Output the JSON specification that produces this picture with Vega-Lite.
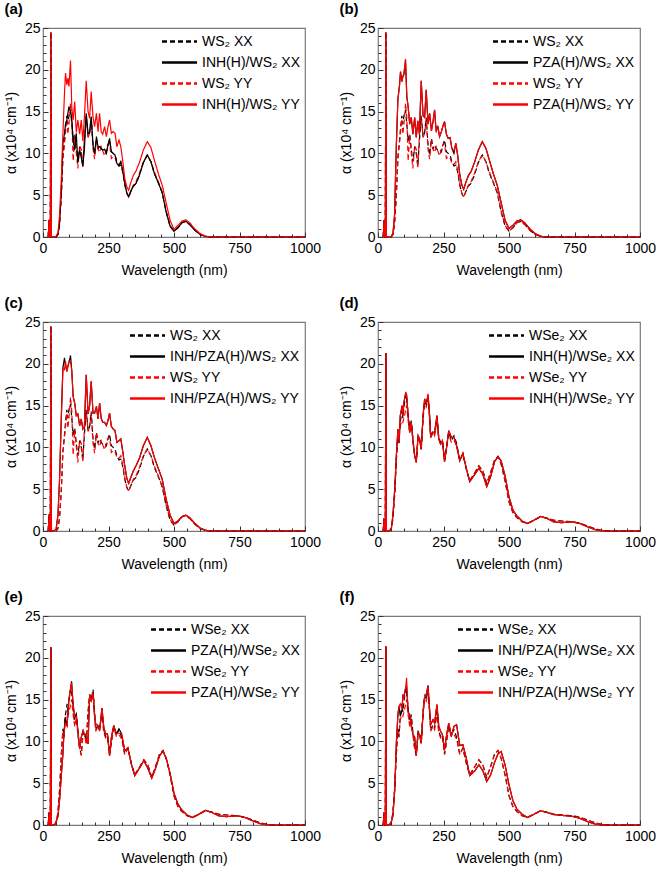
{
"$schema": "https://vega.github.io/schema/vega-lite/v6.json",
"background": "white",
"padding": {"left": 3, "top": 1, "right": 0, "bottom": 0},
"columns": 2,
"spacing": {"row": 17, "column": 16},
"datasets": {
"ws2": [{"w":20,"a":0,"c":0},{"w":23,"a":2,"c":2},{"w":26,"a":0,"c":0},{"w":28,"a":0,"c":0},{"w":30,"a":24.5,"c":24.5},{"w":32,"a":0,"c":0},{"w":40,"a":0,"c":0},{"w":50,"a":0,"c":0},{"w":57,"a":0.3,"c":0.3},{"w":63,"a":1.5,"c":1.5},{"w":70,"a":5,"c":5},{"w":76,"a":9.5,"c":9.5},{"w":82,"a":11.5,"c":11.2},{"w":86,"a":13,"c":12.5},{"w":91,"a":14.5,"c":14.1},{"w":95,"a":13.5,"c":12.3},{"w":99,"a":14.5,"c":13.5},{"w":105,"a":15.2,"c":16},{"w":110,"a":13.5,"c":14.3},{"w":115,"a":11.5,"c":9.1},{"w":121,"a":12.3,"c":12.1},{"w":127,"a":10.5,"c":10.1},{"w":133,"a":9,"c":8.2},{"w":140,"a":10.8,"c":10.9},{"w":146,"a":10,"c":10.5},{"w":152,"a":8.5,"c":8.2},{"w":158,"a":11.5,"c":12.1},{"w":165,"a":14.5,"c":14.5},{"w":172,"a":12,"c":11.9},{"w":178,"a":12.5,"c":12.4},{"w":184,"a":14.3,"c":14.1},{"w":191,"a":11,"c":10.5},{"w":197,"a":9.8,"c":9.3},{"w":204,"a":11.8,"c":11.7},{"w":210,"a":10.5,"c":10.5},{"w":216,"a":11,"c":10.1},{"w":222,"a":10.6,"c":10.8},{"w":228,"a":10.4,"c":10.3},{"w":235,"a":10.5,"c":9.7},{"w":242,"a":10.2,"c":10.5},{"w":248,"a":11,"c":11.1},{"w":254,"a":11.6,"c":11.2},{"w":261,"a":10.2,"c":9.4},{"w":268,"a":10,"c":9.6},{"w":275,"a":9.8,"c":9.5},{"w":282,"a":9,"c":8.8},{"w":290,"a":8.5,"c":8.7},{"w":297,"a":8.6,"c":9},{"w":304,"a":7.8,"c":8},{"w":312,"a":6.2,"c":6.4},{"w":320,"a":5.2,"c":5.2},{"w":327,"a":4.8,"c":4.8},{"w":335,"a":5.4,"c":5.4},{"w":345,"a":6.1,"c":6.2},{"w":355,"a":6.4,"c":6.6},{"w":368,"a":7.4,"c":7.6},{"w":383,"a":8.9,"c":9},{"w":398,"a":9.8,"c":9.8},{"w":412,"a":9,"c":9},{"w":425,"a":7.6,"c":7.8},{"w":440,"a":6.5,"c":6.6},{"w":455,"a":5.3,"c":5.4},{"w":470,"a":3,"c":3.1},{"w":485,"a":1.3,"c":1.4},{"w":500,"a":0.7,"c":0.7},{"w":515,"a":1.1,"c":1.1},{"w":530,"a":1.7,"c":1.7},{"w":545,"a":1.85,"c":1.85},{"w":560,"a":1.5,"c":1.5},{"w":580,"a":0.8,"c":0.8},{"w":600,"a":0.3,"c":0.3},{"w":620,"a":0.08,"c":0.08},{"w":640,"a":0,"c":0},{"w":1000,"a":0,"c":0}],
"pa": [{"w":20,"b":0,"d":0},{"w":23,"b":2,"d":2.1},{"w":26,"b":0,"d":0},{"w":28,"b":0,"d":0},{"w":30,"b":24.5,"d":24.5},{"w":32,"b":0,"d":0},{"w":40,"b":0,"d":0},{"w":50,"b":0,"d":0.1},{"w":57,"b":0.3,"d":0.5},{"w":63,"b":1.5,"d":2.5},{"w":70,"b":5.5,"d":7},{"w":76,"b":11.2,"d":12.4},{"w":82,"b":12.4,"d":17.2},{"w":86,"b":13.5,"d":19.6},{"w":91,"b":14,"d":18.2},{"w":95,"b":14.8,"d":19},{"w":99,"b":15.6,"d":18},{"w":105,"b":15,"d":21.1},{"w":110,"b":14,"d":15.5},{"w":115,"b":11.6,"d":14},{"w":121,"b":10.4,"d":16.2},{"w":127,"b":12.4,"d":12.5},{"w":133,"b":8.9,"d":14},{"w":140,"b":10.4,"d":12.3},{"w":146,"b":9.5,"d":14},{"w":152,"b":8.5,"d":11.5},{"w":158,"b":10.5,"d":14.3},{"w":165,"b":14.8,"d":18.7},{"w":172,"b":12.4,"d":15},{"w":178,"b":12.5,"d":14.2},{"w":184,"b":14.4,"d":17.4},{"w":191,"b":11,"d":14.3},{"w":197,"b":10,"d":13.2},{"w":204,"b":12,"d":14.8},{"w":210,"b":10.8,"d":12.6},{"w":216,"b":10.8,"d":14.8},{"w":222,"b":10.6,"d":12.6},{"w":228,"b":10.4,"d":12.3},{"w":235,"b":10.5,"d":13.2},{"w":242,"b":10,"d":12},{"w":248,"b":11,"d":13.2},{"w":254,"b":11.8,"d":14},{"w":261,"b":10.2,"d":12.4},{"w":268,"b":10,"d":12.6},{"w":275,"b":9.8,"d":12.4},{"w":282,"b":8.8,"d":10.8},{"w":290,"b":8.5,"d":11.6},{"w":297,"b":9,"d":10.8},{"w":304,"b":8,"d":9.2},{"w":312,"b":6.5,"d":7},{"w":320,"b":5.3,"d":6},{"w":327,"b":4.8,"d":5.6},{"w":335,"b":5.5,"d":6.5},{"w":345,"b":6.1,"d":7.4},{"w":355,"b":6.4,"d":7.9},{"w":368,"b":7.4,"d":8.9},{"w":383,"b":8.9,"d":10.4},{"w":398,"b":9.8,"d":11.4},{"w":412,"b":9,"d":10.7},{"w":425,"b":7.6,"d":9.2},{"w":440,"b":6.5,"d":7.6},{"w":455,"b":5.3,"d":6.2},{"w":470,"b":3,"d":4.1},{"w":485,"b":1.3,"d":2},{"w":500,"b":0.7,"d":0.9},{"w":515,"b":1.1,"d":1.4},{"w":530,"b":1.7,"d":1.9},{"w":545,"b":1.9,"d":2.05},{"w":560,"b":1.5,"d":1.7},{"w":580,"b":0.8,"d":0.95},{"w":600,"b":0.3,"d":0.4},{"w":620,"b":0.08,"d":0.1},{"w":640,"b":0,"d":0},{"w":1000,"b":0,"d":0}],
"pb": [{"w":20,"b":0,"d":0},{"w":23,"b":2,"d":2},{"w":26,"b":0,"d":0},{"w":28,"b":0,"d":0},{"w":30,"b":24.5,"d":24.5},{"w":32,"b":0,"d":0},{"w":40,"b":0,"d":0},{"w":50,"b":0,"d":0},{"w":57,"b":0.4,"d":0.4},{"w":63,"b":2.5,"d":2.5},{"w":70,"b":11,"d":11},{"w":76,"b":16.5,"d":16.5},{"w":82,"b":18.2,"d":18},{"w":86,"b":19.8,"d":19.7},{"w":91,"b":18.6,"d":18.6},{"w":95,"b":19.2,"d":19.2},{"w":99,"b":19.4,"d":19.6},{"w":105,"b":21.1,"d":21.3},{"w":110,"b":16.8,"d":16.8},{"w":115,"b":15.6,"d":15.6},{"w":121,"b":13.5,"d":13.5},{"w":127,"b":14.3,"d":14.3},{"w":133,"b":12.3,"d":12.3},{"w":140,"b":14.3,"d":14.3},{"w":146,"b":11.9,"d":11.9},{"w":152,"b":13.9,"d":13.9},{"w":158,"b":12.3,"d":12.3},{"w":165,"b":18.7,"d":18.7},{"w":172,"b":14.5,"d":14.5},{"w":178,"b":14.3,"d":14.3},{"w":184,"b":17.6,"d":17.6},{"w":191,"b":13.5,"d":13.5},{"w":197,"b":14.8,"d":14.8},{"w":204,"b":12.7,"d":12.7},{"w":210,"b":13.8,"d":13.8},{"w":216,"b":15.2,"d":15.2},{"w":222,"b":12.7,"d":12.5},{"w":228,"b":13.3,"d":13.3},{"w":235,"b":12,"d":12},{"w":242,"b":12.6,"d":12.6},{"w":248,"b":13.3,"d":13.3},{"w":254,"b":13.8,"d":13.8},{"w":261,"b":12.3,"d":12.3},{"w":268,"b":11.8,"d":11.8},{"w":275,"b":11.9,"d":11.9},{"w":282,"b":10.6,"d":10.6},{"w":290,"b":10,"d":10.3},{"w":297,"b":11.2,"d":11.2},{"w":304,"b":9.8,"d":9.8},{"w":312,"b":7.5,"d":7.5},{"w":320,"b":6.2,"d":6.2},{"w":327,"b":5.7,"d":5.7},{"w":335,"b":6.5,"d":6.5},{"w":345,"b":7.4,"d":7.3},{"w":355,"b":7.8,"d":7.8},{"w":368,"b":8.9,"d":8.9},{"w":383,"b":10.4,"d":10.4},{"w":398,"b":11.4,"d":11.4},{"w":412,"b":10.6,"d":10.6},{"w":425,"b":9.2,"d":9.2},{"w":440,"b":7.6,"d":7.6},{"w":455,"b":6.2,"d":6.2},{"w":470,"b":4.1,"d":4.1},{"w":485,"b":2,"d":2},{"w":500,"b":1,"d":1},{"w":515,"b":1.4,"d":1.4},{"w":530,"b":1.9,"d":1.9},{"w":545,"b":2.05,"d":2.05},{"w":560,"b":1.7,"d":1.7},{"w":580,"b":0.95,"d":0.95},{"w":600,"b":0.4,"d":0.4},{"w":620,"b":0.1,"d":0.1},{"w":640,"b":0,"d":0},{"w":1000,"b":0,"d":0}],
"pc": [{"w":20,"b":0,"d":0},{"w":23,"b":1.8,"d":1.8},{"w":26,"b":0,"d":0},{"w":28,"b":0,"d":0},{"w":30,"b":24.5,"d":24.5},{"w":32,"b":0,"d":0},{"w":40,"b":0,"d":0},{"w":50,"b":0.2,"d":0.2},{"w":57,"b":1.9,"d":1.9},{"w":63,"b":6,"d":6},{"w":70,"b":13.7,"d":13.7},{"w":76,"b":19.5,"d":19.5},{"w":82,"b":20.7,"d":19.3},{"w":86,"b":19.8,"d":20.3},{"w":91,"b":19.1,"d":19.1},{"w":95,"b":19.7,"d":19.7},{"w":99,"b":20.1,"d":20.3},{"w":105,"b":21,"d":20.3},{"w":110,"b":19.1,"d":19.1},{"w":115,"b":16.1,"d":16.1},{"w":121,"b":15.3,"d":15.3},{"w":127,"b":13.8,"d":13.8},{"w":133,"b":14,"d":14},{"w":140,"b":12.6,"d":12.6},{"w":146,"b":13.4,"d":13.4},{"w":152,"b":12.2,"d":12.2},{"w":158,"b":12.5,"d":12.5},{"w":165,"b":18.7,"d":18.7},{"w":172,"b":14,"d":14},{"w":178,"b":15,"d":15},{"w":184,"b":17.9,"d":17.9},{"w":191,"b":14.1,"d":14.1},{"w":197,"b":14.1,"d":14.1},{"w":204,"b":14.9,"d":14.9},{"w":210,"b":13.4,"d":13.4},{"w":216,"b":15.3,"d":15.3},{"w":222,"b":13.5,"d":13.5},{"w":228,"b":13,"d":13},{"w":235,"b":13,"d":13},{"w":242,"b":12.6,"d":12.6},{"w":248,"b":13.2,"d":13.2},{"w":254,"b":14.1,"d":14.1},{"w":261,"b":12.5,"d":12.5},{"w":268,"b":12.2,"d":12.2},{"w":275,"b":12,"d":12},{"w":282,"b":10.6,"d":10.6},{"w":290,"b":10.8,"d":10.8},{"w":297,"b":11,"d":11},{"w":304,"b":9.6,"d":9.6},{"w":312,"b":7.8,"d":7.8},{"w":320,"b":6.3,"d":6.3},{"w":327,"b":5.7,"d":5.7},{"w":335,"b":6.4,"d":6.4},{"w":345,"b":7.2,"d":7.2},{"w":355,"b":7.8,"d":7.8},{"w":368,"b":8.7,"d":8.7},{"w":383,"b":10.2,"d":10.2},{"w":398,"b":11.2,"d":11.2},{"w":412,"b":10.2,"d":10.2},{"w":425,"b":8.8,"d":8.8},{"w":440,"b":7.5,"d":7.5},{"w":455,"b":6.2,"d":6.2},{"w":470,"b":3.8,"d":3.8},{"w":485,"b":1.9,"d":1.9},{"w":500,"b":0.9,"d":0.9},{"w":515,"b":1.2,"d":1.2},{"w":530,"b":1.7,"d":1.7},{"w":545,"b":1.9,"d":1.9},{"w":560,"b":1.6,"d":1.6},{"w":580,"b":0.9,"d":0.9},{"w":600,"b":0.35,"d":0.35},{"w":620,"b":0.08,"d":0.08},{"w":640,"b":0,"d":0},{"w":1000,"b":0,"d":0}],
"wse2": [{"w":20,"a":0,"c":0},{"w":23,"a":1.5,"c":1.5},{"w":26,"a":0,"c":0},{"w":28,"a":0,"c":0},{"w":30,"a":21.3,"c":21.3},{"w":32,"a":0,"c":0},{"w":40,"a":0,"c":0},{"w":46,"a":0.1,"c":0.1},{"w":51,"a":0.3,"c":0.3},{"w":57,"a":1.5,"c":1.5},{"w":64,"a":4.5,"c":4.5},{"w":70,"a":8.5,"c":8.5},{"w":76,"a":11.5,"c":11.2},{"w":80,"a":10.5,"c":10.8},{"w":85,"a":13,"c":12.6},{"w":92,"a":14.5,"c":13.2},{"w":95,"a":13.5,"c":13},{"w":99,"a":14.8,"c":13.5},{"w":106,"a":16.4,"c":14.5},{"w":109,"a":16,"c":15},{"w":115,"a":14,"c":13.2},{"w":121,"a":12,"c":11.8},{"w":127,"a":13.2,"c":12.8},{"w":134,"a":10.8,"c":10.6},{"w":140,"a":9.2,"c":9},{"w":146,"a":8.4,"c":8.3},{"w":153,"a":11.2,"c":11},{"w":159,"a":11,"c":10.8},{"w":165,"a":9.8,"c":9.6},{"w":172,"a":13.6,"c":13.4},{"w":178,"a":15.6,"c":15.2},{"w":184,"a":15,"c":14.8},{"w":191,"a":16.2,"c":15.8},{"w":197,"a":13.6,"c":13.4},{"w":201,"a":11.4,"c":11.2},{"w":210,"a":12,"c":11.8},{"w":216,"a":11.6,"c":11.4},{"w":225,"a":13.6,"c":13.4},{"w":232,"a":11.2,"c":11},{"w":239,"a":10.6,"c":10.4},{"w":246,"a":10.8,"c":10.6},{"w":254,"a":8.5,"c":8.4},{"w":261,"a":9.9,"c":9.8},{"w":270,"a":11.8,"c":11.6},{"w":280,"a":10.8,"c":10.6},{"w":290,"a":11.4,"c":10.8},{"w":300,"a":10.5,"c":10.3},{"w":312,"a":8.5,"c":8.4},{"w":324,"a":9.2,"c":9.2},{"w":337,"a":7.4,"c":7.4},{"w":350,"a":6,"c":6},{"w":370,"a":7,"c":7},{"w":385,"a":7.8,"c":7.8},{"w":400,"a":7.2,"c":7.2},{"w":415,"a":5.7,"c":5.7},{"w":430,"a":7,"c":7},{"w":445,"a":8.5,"c":8.5},{"w":458,"a":8.9,"c":8.9},{"w":470,"a":8,"c":8},{"w":485,"a":6,"c":6},{"w":500,"a":3.5,"c":3.5},{"w":515,"a":2.2,"c":2.2},{"w":530,"a":1.6,"c":1.6},{"w":550,"a":1.1,"c":1.1},{"w":570,"a":0.9,"c":0.9},{"w":590,"a":1.2,"c":1.2},{"w":620,"a":1.7,"c":1.7},{"w":645,"a":1.55,"c":1.55},{"w":670,"a":1.3,"c":1.3},{"w":700,"a":1.2,"c":1.2},{"w":740,"a":1.1,"c":1.1},{"w":770,"a":0.95,"c":0.95},{"w":800,"a":0.6,"c":0.6},{"w":830,"a":0.25,"c":0.25},{"w":850,"a":0.1,"c":0.1},{"w":880,"a":0,"c":0},{"w":1000,"a":0,"c":0}],
"pd": [{"w":20,"b":0,"d":0},{"w":23,"b":1.5,"d":1.5},{"w":26,"b":0,"d":0},{"w":28,"b":0,"d":0},{"w":30,"b":21.3,"d":21.3},{"w":32,"b":0,"d":0},{"w":40,"b":0,"d":0},{"w":46,"b":0.1,"d":0.1},{"w":51,"b":0.3,"d":0.3},{"w":57,"b":1.9,"d":1.9},{"w":64,"b":5.1,"d":5.1},{"w":70,"b":9,"d":9},{"w":76,"b":12.2,"d":12.2},{"w":80,"b":10.6,"d":10.6},{"w":85,"b":13.8,"d":13.8},{"w":92,"b":15,"d":15},{"w":95,"b":13.8,"d":13.8},{"w":99,"b":15.4,"d":15.4},{"w":106,"b":16.5,"d":16.6},{"w":109,"b":16.3,"d":16.3},{"w":115,"b":13.8,"d":13.8},{"w":121,"b":11.8,"d":11.8},{"w":127,"b":13,"d":13},{"w":134,"b":10.6,"d":10.6},{"w":140,"b":9,"d":9},{"w":146,"b":8.2,"d":8.2},{"w":153,"b":11.4,"d":11.4},{"w":159,"b":11,"d":11},{"w":165,"b":9.8,"d":9.8},{"w":172,"b":13.8,"d":13.8},{"w":178,"b":15.8,"d":15.8},{"w":184,"b":15.2,"d":15.2},{"w":191,"b":16.2,"d":16.4},{"w":197,"b":13.8,"d":13.8},{"w":201,"b":11.2,"d":11.2},{"w":210,"b":11.8,"d":11.8},{"w":216,"b":11.8,"d":11.8},{"w":225,"b":13.8,"d":13.8},{"w":232,"b":11,"d":11},{"w":239,"b":10.4,"d":10.4},{"w":246,"b":10.8,"d":10.8},{"w":254,"b":8.3,"d":8.3},{"w":261,"b":9.8,"d":9.8},{"w":270,"b":12,"d":12},{"w":280,"b":11.2,"d":11.2},{"w":290,"b":11.2,"d":11.2},{"w":300,"b":10.2,"d":10.2},{"w":312,"b":8.4,"d":8.4},{"w":324,"b":9.3,"d":9.3},{"w":337,"b":7.5,"d":7.5},{"w":350,"b":5.9,"d":5.9},{"w":370,"b":6.8,"d":6.8},{"w":385,"b":7.5,"d":7.5},{"w":400,"b":6.8,"d":6.8},{"w":415,"b":5.3,"d":5.3},{"w":430,"b":6.5,"d":6.5},{"w":445,"b":8.3,"d":8.3},{"w":458,"b":8.9,"d":8.9},{"w":470,"b":8.4,"d":8.4},{"w":485,"b":6.6,"d":6.6},{"w":500,"b":4.1,"d":4.1},{"w":515,"b":2.5,"d":2.5},{"w":530,"b":1.8,"d":1.8},{"w":550,"b":1.2,"d":1.2},{"w":570,"b":0.9,"d":0.9},{"w":590,"b":1.2,"d":1.2},{"w":620,"b":1.75,"d":1.75},{"w":645,"b":1.5,"d":1.5},{"w":670,"b":1.1,"d":1.1},{"w":700,"b":1,"d":1},{"w":740,"b":1.1,"d":1.1},{"w":770,"b":0.9,"d":0.9},{"w":800,"b":0.5,"d":0.5},{"w":830,"b":0.15,"d":0.15},{"w":850,"b":0.05,"d":0.05},{"w":880,"b":0,"d":0},{"w":1000,"b":0,"d":0}],
"pe": [{"w":20,"b":0,"d":0},{"w":23,"b":1.5,"d":1.5},{"w":26,"b":0,"d":0},{"w":28,"b":0,"d":0},{"w":30,"b":21.2,"d":21.2},{"w":32,"b":0,"d":0},{"w":40,"b":0,"d":0},{"w":46,"b":0.1,"d":0.1},{"w":51,"b":0.5,"d":0.5},{"w":57,"b":1,"d":1},{"w":64,"b":3.2,"d":3.2},{"w":70,"b":6,"d":6},{"w":76,"b":8.5,"d":8.5},{"w":80,"b":11,"d":11},{"w":85,"b":12.9,"d":12.2},{"w":92,"b":11.8,"d":11.8},{"w":95,"b":13.5,"d":13.5},{"w":99,"b":15,"d":15},{"w":106,"b":16.5,"d":16.5},{"w":109,"b":17.2,"d":17},{"w":115,"b":14.4,"d":14.4},{"w":121,"b":12.9,"d":12.9},{"w":127,"b":13.3,"d":13},{"w":134,"b":11,"d":11},{"w":140,"b":9.1,"d":9.1},{"w":146,"b":10.5,"d":10.5},{"w":153,"b":11.3,"d":11.3},{"w":159,"b":10.7,"d":10.7},{"w":165,"b":10.9,"d":10.9},{"w":172,"b":9.7,"d":9.7},{"w":178,"b":15.6,"d":15.6},{"w":184,"b":14.8,"d":14.8},{"w":191,"b":15.8,"d":15.8},{"w":197,"b":12.9,"d":12.9},{"w":201,"b":12.1,"d":12.1},{"w":210,"b":11.9,"d":11.9},{"w":216,"b":11.3,"d":11.3},{"w":225,"b":14,"d":14},{"w":232,"b":11.7,"d":11.7},{"w":239,"b":10.9,"d":10.9},{"w":246,"b":10.9,"d":10.9},{"w":254,"b":8.3,"d":8.3},{"w":261,"b":10.5,"d":10.5},{"w":270,"b":11.9,"d":11.9},{"w":280,"b":10.9,"d":10.9},{"w":290,"b":11.5,"d":11},{"w":300,"b":10.9,"d":10.9},{"w":312,"b":8.9,"d":8.9},{"w":324,"b":9.2,"d":9.2},{"w":337,"b":7.3,"d":7.3},{"w":350,"b":5.9,"d":5.9},{"w":370,"b":6.9,"d":6.9},{"w":385,"b":7.7,"d":7.7},{"w":400,"b":6.8,"d":6.8},{"w":415,"b":5.6,"d":5.6},{"w":430,"b":6.8,"d":6.8},{"w":445,"b":8.3,"d":8.3},{"w":458,"b":8.8,"d":8.8},{"w":470,"b":8,"d":8},{"w":485,"b":6.2,"d":6.2},{"w":500,"b":3.8,"d":3.8},{"w":515,"b":2.5,"d":2.5},{"w":530,"b":1.8,"d":1.8},{"w":550,"b":1.2,"d":1.2},{"w":570,"b":0.9,"d":0.9},{"w":590,"b":1.2,"d":1.2},{"w":620,"b":1.75,"d":1.75},{"w":645,"b":1.5,"d":1.5},{"w":670,"b":1.1,"d":1.1},{"w":700,"b":1,"d":1},{"w":740,"b":1.1,"d":1.1},{"w":770,"b":0.9,"d":0.9},{"w":800,"b":0.5,"d":0.5},{"w":830,"b":0.15,"d":0.15},{"w":850,"b":0.05,"d":0.05},{"w":880,"b":0,"d":0},{"w":1000,"b":0,"d":0}],
"pf": [{"w":20,"b":0,"d":0},{"w":23,"b":1.5,"d":1.5},{"w":26,"b":0,"d":0},{"w":28,"b":0,"d":0},{"w":30,"b":21.4,"d":21.4},{"w":32,"b":0,"d":0},{"w":40,"b":0,"d":0},{"w":46,"b":0.1,"d":0.1},{"w":51,"b":0.4,"d":0.4},{"w":57,"b":1.1,"d":1.1},{"w":64,"b":4.3,"d":4.3},{"w":70,"b":9.8,"d":9.8},{"w":76,"b":13.2,"d":13.2},{"w":80,"b":14.2,"d":14.2},{"w":85,"b":13,"d":14.5},{"w":92,"b":13.8,"d":13.8},{"w":95,"b":15.6,"d":15.6},{"w":99,"b":15.3,"d":15.3},{"w":106,"b":16.5,"d":16.5},{"w":109,"b":16.6,"d":17.6},{"w":115,"b":13.5,"d":13.5},{"w":121,"b":13.2,"d":13.2},{"w":127,"b":11.8,"d":11.8},{"w":134,"b":10.8,"d":10.8},{"w":140,"b":10.5,"d":10.5},{"w":146,"b":8.3,"d":8.3},{"w":153,"b":11,"d":11},{"w":159,"b":10.8,"d":10.8},{"w":165,"b":9.8,"d":9.8},{"w":172,"b":13.4,"d":13.4},{"w":178,"b":15.2,"d":15.2},{"w":184,"b":15.6,"d":15.6},{"w":191,"b":16.7,"d":16.6},{"w":197,"b":13.8,"d":13.8},{"w":201,"b":12,"d":12},{"w":210,"b":12.6,"d":12.6},{"w":216,"b":12.2,"d":12.2},{"w":225,"b":14.4,"d":14.4},{"w":232,"b":11.8,"d":11.8},{"w":239,"b":11.2,"d":11.2},{"w":246,"b":10.8,"d":10.8},{"w":254,"b":9,"d":9},{"w":261,"b":10.6,"d":10.6},{"w":270,"b":12.2,"d":12.2},{"w":280,"b":10.6,"d":10.6},{"w":290,"b":11.8,"d":11.8},{"w":300,"b":12,"d":12},{"w":312,"b":9.5,"d":9.5},{"w":324,"b":9.6,"d":9.6},{"w":337,"b":8,"d":8},{"w":350,"b":5.9,"d":5.9},{"w":370,"b":6.5,"d":6.5},{"w":385,"b":7.2,"d":7.2},{"w":400,"b":6.5,"d":6.5},{"w":415,"b":5.2,"d":5.2},{"w":430,"b":6,"d":6},{"w":445,"b":7.5,"d":7.5},{"w":458,"b":8.5,"d":8.5},{"w":470,"b":8.8,"d":8.8},{"w":485,"b":7.2,"d":7.2},{"w":500,"b":4.8,"d":4.8},{"w":515,"b":2.9,"d":2.9},{"w":530,"b":1.9,"d":1.9},{"w":550,"b":1.3,"d":1.3},{"w":570,"b":0.9,"d":0.9},{"w":590,"b":1.2,"d":1.2},{"w":620,"b":1.7,"d":1.7},{"w":645,"b":1.5,"d":1.5},{"w":670,"b":1.25,"d":1.25},{"w":700,"b":1.15,"d":1.15},{"w":740,"b":1.05,"d":1.05},{"w":770,"b":0.8,"d":0.8},{"w":800,"b":0.4,"d":0.4},{"w":830,"b":0.1,"d":0.1},{"w":850,"b":0.02,"d":0.02},{"w":880,"b":0,"d":0},{"w":1000,"b":0,"d":0}]
},
"concat": [
{"title": "(a)", "width": 262, "height": 209,
 "encoding": {
  "x": {"field": "w", "type": "quantitative", "title": "Wavelength (nm)", "scale": {"domain": [0, 1000], "nice": false}, "axis": {"format": "d", "values": [0,50,100,150,200,250,300,350,400,450,500,550,600,650,700,750,800,850,900,950,1000], "labelExpr": "datum.value % 250 == 0 ? datum.label : ''", "tickSize": {"condition": {"test": "datum.value % 250 == 0", "value": -5}, "value": -3}}},
  "y": {"field": "v", "type": "quantitative", "title": "α (x10⁴ cm⁻¹)", "scale": {"domain": [0, 25], "nice": false}, "axis": {"values": [0,1,2,3,4,5,6,7,8,9,10,11,12,13,14,15,16,17,18,19,20,21,22,23,24,25], "labelExpr": "datum.value % 5 == 0 ? datum.label : ''", "tickSize": {"condition": {"test": "datum.value % 5 == 0", "value": -5}, "value": -3}}},
  "color": {"field": "s", "type": "nominal", "title": null, "scale": {"domain": ["a","b","c","d"], "range": ["#000000","#000000","#ff0000","#ff0000"]}, "legend": {"labelExpr": "datum.label=='a'?'WS₂ XX':datum.label=='b'?'INH(H)/WS₂ XX':datum.label=='c'?'WS₂ YY':'INH(H)/WS₂ YY'"}},
  "strokeDash": {"field": "s", "type": "nominal", "title": null, "scale": {"domain": ["a","b","c","d"], "range": [[5,3],[1,0],[5,3],[1,0]]}, "legend": {"labelExpr": "datum.label=='a'?'WS₂ XX':datum.label=='b'?'INH(H)/WS₂ XX':datum.label=='c'?'WS₂ YY':'INH(H)/WS₂ YY'"}}
 },
 "layer": [
  {"data": {"name": "ws2"}, "transform": [{"fold": ["a","c"], "as": ["s","v"]}], "mark": {"type": "line", "strokeWidth": 1.2}},
  {"data": {"name": "pa"}, "transform": [{"fold": ["b","d"], "as": ["s","v"]}], "mark": {"type": "line", "strokeWidth": 1.2}}
 ]},
{"title": "(b)", "width": 262, "height": 209,
 "encoding": {
  "x": {"field": "w", "type": "quantitative", "title": "Wavelength (nm)", "scale": {"domain": [0, 1000], "nice": false}, "axis": {"format": "d", "values": [0,50,100,150,200,250,300,350,400,450,500,550,600,650,700,750,800,850,900,950,1000], "labelExpr": "datum.value % 250 == 0 ? datum.label : ''", "tickSize": {"condition": {"test": "datum.value % 250 == 0", "value": -5}, "value": -3}}},
  "y": {"field": "v", "type": "quantitative", "title": "α (x10⁴ cm⁻¹)", "scale": {"domain": [0, 25], "nice": false}, "axis": {"values": [0,1,2,3,4,5,6,7,8,9,10,11,12,13,14,15,16,17,18,19,20,21,22,23,24,25], "labelExpr": "datum.value % 5 == 0 ? datum.label : ''", "tickSize": {"condition": {"test": "datum.value % 5 == 0", "value": -5}, "value": -3}}},
  "color": {"field": "s", "type": "nominal", "title": null, "scale": {"domain": ["a","b","c","d"], "range": ["#000000","#000000","#ff0000","#ff0000"]}, "legend": {"labelExpr": "datum.label=='a'?'WS₂ XX':datum.label=='b'?'PZA(H)/WS₂ XX':datum.label=='c'?'WS₂ YY':'PZA(H)/WS₂ YY'"}},
  "strokeDash": {"field": "s", "type": "nominal", "title": null, "scale": {"domain": ["a","b","c","d"], "range": [[5,3],[1,0],[5,3],[1,0]]}, "legend": {"labelExpr": "datum.label=='a'?'WS₂ XX':datum.label=='b'?'PZA(H)/WS₂ XX':datum.label=='c'?'WS₂ YY':'PZA(H)/WS₂ YY'"}}
 },
 "layer": [
  {"data": {"name": "ws2"}, "transform": [{"fold": ["a","c"], "as": ["s","v"]}], "mark": {"type": "line", "strokeWidth": 1.2}},
  {"data": {"name": "pb"}, "transform": [{"fold": ["b","d"], "as": ["s","v"]}], "mark": {"type": "line", "strokeWidth": 1.2}}
 ]},
{"title": "(c)", "width": 262, "height": 209,
 "encoding": {
  "x": {"field": "w", "type": "quantitative", "title": "Wavelength (nm)", "scale": {"domain": [0, 1000], "nice": false}, "axis": {"format": "d", "values": [0,50,100,150,200,250,300,350,400,450,500,550,600,650,700,750,800,850,900,950,1000], "labelExpr": "datum.value % 250 == 0 ? datum.label : ''", "tickSize": {"condition": {"test": "datum.value % 250 == 0", "value": -5}, "value": -3}}},
  "y": {"field": "v", "type": "quantitative", "title": "α (x10⁴ cm⁻¹)", "scale": {"domain": [0, 25], "nice": false}, "axis": {"values": [0,1,2,3,4,5,6,7,8,9,10,11,12,13,14,15,16,17,18,19,20,21,22,23,24,25], "labelExpr": "datum.value % 5 == 0 ? datum.label : ''", "tickSize": {"condition": {"test": "datum.value % 5 == 0", "value": -5}, "value": -3}}},
  "color": {"field": "s", "type": "nominal", "title": null, "scale": {"domain": ["a","b","c","d"], "range": ["#000000","#000000","#ff0000","#ff0000"]}, "legend": {"labelExpr": "datum.label=='a'?'WS₂ XX':datum.label=='b'?'INH/PZA(H)/WS₂ XX':datum.label=='c'?'WS₂ YY':'INH/PZA(H)/WS₂ YY'"}},
  "strokeDash": {"field": "s", "type": "nominal", "title": null, "scale": {"domain": ["a","b","c","d"], "range": [[5,3],[1,0],[5,3],[1,0]]}, "legend": {"labelExpr": "datum.label=='a'?'WS₂ XX':datum.label=='b'?'INH/PZA(H)/WS₂ XX':datum.label=='c'?'WS₂ YY':'INH/PZA(H)/WS₂ YY'"}}
 },
 "layer": [
  {"data": {"name": "ws2"}, "transform": [{"fold": ["a","c"], "as": ["s","v"]}], "mark": {"type": "line", "strokeWidth": 1.2}},
  {"data": {"name": "pc"}, "transform": [{"fold": ["b","d"], "as": ["s","v"]}], "mark": {"type": "line", "strokeWidth": 1.2}}
 ]},
{"title": "(d)", "width": 262, "height": 209,
 "encoding": {
  "x": {"field": "w", "type": "quantitative", "title": "Wavelength (nm)", "scale": {"domain": [0, 1000], "nice": false}, "axis": {"format": "d", "values": [0,50,100,150,200,250,300,350,400,450,500,550,600,650,700,750,800,850,900,950,1000], "labelExpr": "datum.value % 250 == 0 ? datum.label : ''", "tickSize": {"condition": {"test": "datum.value % 250 == 0", "value": -5}, "value": -3}}},
  "y": {"field": "v", "type": "quantitative", "title": "α (x10⁴ cm⁻¹)", "scale": {"domain": [0, 25], "nice": false}, "axis": {"values": [0,1,2,3,4,5,6,7,8,9,10,11,12,13,14,15,16,17,18,19,20,21,22,23,24,25], "labelExpr": "datum.value % 5 == 0 ? datum.label : ''", "tickSize": {"condition": {"test": "datum.value % 5 == 0", "value": -5}, "value": -3}}},
  "color": {"field": "s", "type": "nominal", "title": null, "scale": {"domain": ["a","b","c","d"], "range": ["#000000","#000000","#ff0000","#ff0000"]}, "legend": {"labelExpr": "datum.label=='a'?'WSe₂ XX':datum.label=='b'?'INH(H)/WSe₂ XX':datum.label=='c'?'WSe₂ YY':'INH(H)/WSe₂ YY'"}},
  "strokeDash": {"field": "s", "type": "nominal", "title": null, "scale": {"domain": ["a","b","c","d"], "range": [[5,3],[1,0],[5,3],[1,0]]}, "legend": {"labelExpr": "datum.label=='a'?'WSe₂ XX':datum.label=='b'?'INH(H)/WSe₂ XX':datum.label=='c'?'WSe₂ YY':'INH(H)/WSe₂ YY'"}}
 },
 "layer": [
  {"data": {"name": "wse2"}, "transform": [{"fold": ["a","c"], "as": ["s","v"]}], "mark": {"type": "line", "strokeWidth": 1.2}},
  {"data": {"name": "pd"}, "transform": [{"fold": ["b","d"], "as": ["s","v"]}], "mark": {"type": "line", "strokeWidth": 1.2}}
 ]},
{"title": "(e)", "width": 262, "height": 209,
 "encoding": {
  "x": {"field": "w", "type": "quantitative", "title": "Wavelength (nm)", "scale": {"domain": [0, 1000], "nice": false}, "axis": {"format": "d", "values": [0,50,100,150,200,250,300,350,400,450,500,550,600,650,700,750,800,850,900,950,1000], "labelExpr": "datum.value % 250 == 0 ? datum.label : ''", "tickSize": {"condition": {"test": "datum.value % 250 == 0", "value": -5}, "value": -3}}},
  "y": {"field": "v", "type": "quantitative", "title": "α (x10⁴ cm⁻¹)", "scale": {"domain": [0, 25], "nice": false}, "axis": {"values": [0,1,2,3,4,5,6,7,8,9,10,11,12,13,14,15,16,17,18,19,20,21,22,23,24,25], "labelExpr": "datum.value % 5 == 0 ? datum.label : ''", "tickSize": {"condition": {"test": "datum.value % 5 == 0", "value": -5}, "value": -3}}},
  "color": {"field": "s", "type": "nominal", "title": null, "scale": {"domain": ["a","b","c","d"], "range": ["#000000","#000000","#ff0000","#ff0000"]}, "legend": {"labelExpr": "datum.label=='a'?'WSe₂ XX':datum.label=='b'?'PZA(H)/WSe₂ XX':datum.label=='c'?'WSe₂ YY':'PZA(H)/WSe₂ YY'"}},
  "strokeDash": {"field": "s", "type": "nominal", "title": null, "scale": {"domain": ["a","b","c","d"], "range": [[5,3],[1,0],[5,3],[1,0]]}, "legend": {"labelExpr": "datum.label=='a'?'WSe₂ XX':datum.label=='b'?'PZA(H)/WSe₂ XX':datum.label=='c'?'WSe₂ YY':'PZA(H)/WSe₂ YY'"}}
 },
 "layer": [
  {"data": {"name": "wse2"}, "transform": [{"fold": ["a","c"], "as": ["s","v"]}], "mark": {"type": "line", "strokeWidth": 1.2}},
  {"data": {"name": "pe"}, "transform": [{"fold": ["b","d"], "as": ["s","v"]}], "mark": {"type": "line", "strokeWidth": 1.2}}
 ]},
{"title": "(f)", "width": 262, "height": 209,
 "encoding": {
  "x": {"field": "w", "type": "quantitative", "title": "Wavelength (nm)", "scale": {"domain": [0, 1000], "nice": false}, "axis": {"format": "d", "values": [0,50,100,150,200,250,300,350,400,450,500,550,600,650,700,750,800,850,900,950,1000], "labelExpr": "datum.value % 250 == 0 ? datum.label : ''", "tickSize": {"condition": {"test": "datum.value % 250 == 0", "value": -5}, "value": -3}}},
  "y": {"field": "v", "type": "quantitative", "title": "α (x10⁴ cm⁻¹)", "scale": {"domain": [0, 25], "nice": false}, "axis": {"values": [0,1,2,3,4,5,6,7,8,9,10,11,12,13,14,15,16,17,18,19,20,21,22,23,24,25], "labelExpr": "datum.value % 5 == 0 ? datum.label : ''", "tickSize": {"condition": {"test": "datum.value % 5 == 0", "value": -5}, "value": -3}}},
  "color": {"field": "s", "type": "nominal", "title": null, "scale": {"domain": ["a","b","c","d"], "range": ["#000000","#000000","#ff0000","#ff0000"]}, "legend": {"labelExpr": "datum.label=='a'?'WSe₂ XX':datum.label=='b'?'INH/PZA(H)/WSe₂ XX':datum.label=='c'?'WSe₂ YY':'INH/PZA(H)/WSe₂ YY'"}},
  "strokeDash": {"field": "s", "type": "nominal", "title": null, "scale": {"domain": ["a","b","c","d"], "range": [[5,3],[1,0],[5,3],[1,0]]}, "legend": {"labelExpr": "datum.label=='a'?'WSe₂ XX':datum.label=='b'?'INH/PZA(H)/WSe₂ XX':datum.label=='c'?'WSe₂ YY':'INH/PZA(H)/WSe₂ YY'"}}
 },
 "layer": [
  {"data": {"name": "wse2"}, "transform": [{"fold": ["a","c"], "as": ["s","v"]}], "mark": {"type": "line", "strokeWidth": 1.2}},
  {"data": {"name": "pf"}, "transform": [{"fold": ["b","d"], "as": ["s","v"]}], "mark": {"type": "line", "strokeWidth": 1.2}}
 ]}
],
"resolve": {"scale": {"color": "independent", "strokeDash": "independent"}, "legend": {"color": "independent", "strokeDash": "independent"}},
"config": {
 "font": "Liberation Sans",
 "view": {"stroke": "#7a7a7a", "strokeWidth": 1.2},
 "axis": {"domain": false, "grid": false, "tickColor": "#333333", "tickWidth": 1, "labelFont": "Liberation Sans", "labelFontSize": 14, "labelColor": "#000000", "labelFlush": false, "labelOverlap": false, "titleFont": "Liberation Sans", "titleFontSize": 14, "titleFontWeight": "normal", "titleColor": "#000000", "titlePadding": 6},
 "axisX": {"labelPadding": 9},
 "axisY": {"labelPadding": 8},
 "title": {"font": "Liberation Sans", "fontSize": 15, "fontWeight": "bold", "color": "#000000", "anchor": "start", "frame": "bounds", "offset": 4},
 "legend": {"orient": "top-right", "offset": 5, "padding": 0, "labelFont": "Liberation Sans", "labelFontSize": 14, "labelColor": "#000000", "symbolType": "M-2.5,0H2.5", "symbolSize": 196, "symbolStrokeWidth": 2.5, "labelOffset": 14, "rowPadding": 5, "labelLimit": 400}
}
}
